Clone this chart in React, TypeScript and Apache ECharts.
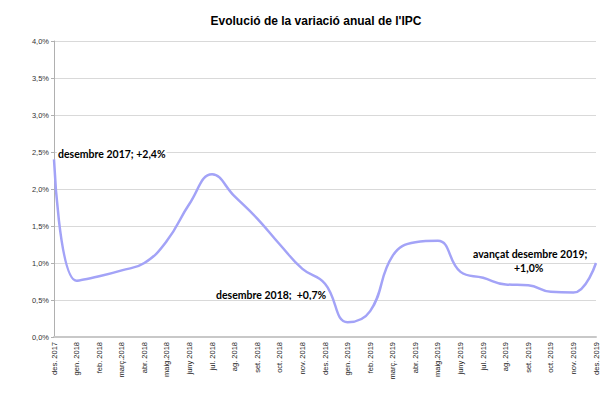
import React, { useEffect, useRef } from "react";
import * as echarts from "echarts";

const categories = [
  "des. 2017", "gen. 2018", "feb. 2018", "març.2018", "abr. 2018", "maig.2018",
  "juny 2018", "jul. 2018", "ag. 2018", "set. 2018", "oct. 2018", "nov. 2018",
  "des. 2018", "gen. 2019", "feb. 2019", "març. 2019", "abr. 2019", "maig.2019",
  "juny 2019", "jul. 2019", "ag. 2019", "set. 2019", "oct. 2019", "nov. 2019", "des. 2019",
];

const ipc = [
  2.4, 0.76, 0.82, 0.9, 1.0, 1.3,
  1.8, 2.2, 1.9, 1.6, 1.25, 0.92,
  0.72, 0.2, 0.35, 1.1, 1.28, 1.3,
  0.88, 0.8, 0.71, 0.7, 0.61, 0.6, 1.0,
];

const titleText = "Evolució de la variació anual de l'IPC";
const note2017 = "desembre 2017; +2,4%";
const note2018 = "desembre 2018;  +0,7%";
const note2019a = "avançat desembre 2019;";
const note2019b = "+1,0%";

export default function App() {
  const ref = useRef<HTMLDivElement>(null);
  useEffect(() => {
    if (!ref.current) return;
    const chart = echarts.init(ref.current, null, { renderer: "svg" });
    const noteStyle = {
      fontFamily: "Lato, 'Open Sans', sans-serif",
      fontWeight: "bold" as const,
      fontSize: 10.5,
      fill: "#000",
    };
    chart.setOption({
      animation: false,
      backgroundColor: "#fff",
      title: {
        text: titleText,
        left: 311,
        textAlign: "center",
        top: 10,
        textStyle: {
          fontFamily: "'Liberation Sans', Arial, sans-serif",
          fontWeight: "bold",
          fontSize: 12,
          color: "#000",
        },
      },
      grid: { left: 54, right: 4, top: 41, bottom: 63, containLabel: false },
      xAxis: {
        type: "category",
        data: categories,
        boundaryGap: false,
        axisLine: { lineStyle: { color: "#c8c8c8", width: 2 } },
        axisTick: { show: false },
        axisLabel: {
          rotate: 90,
          interval: 0,
          fontSize: 7.5,
          color: "#222",
          fontFamily: "'Liberation Sans', Arial, sans-serif",
          margin: 5,
        },
      },
      yAxis: {
        type: "value",
        min: 0,
        max: 4,
        interval: 0.5,
        axisLine: { show: true, lineStyle: { color: "#b0b0b0", width: 1 } },
        axisTick: { show: true, length: 3, lineStyle: { color: "#b0b0b0" } },
        splitLine: { lineStyle: { color: "#d9d9d9", width: 1 } },
        axisLabel: {
          fontSize: 7.5,
          color: "#333",
          margin: 5,
          fontFamily: "'Liberation Sans', Arial, sans-serif",
          formatter: (v: number) => v.toFixed(1).replace(".", ",") + "%",
        },
      },
      series: [
        {
          type: "line",
          data: ipc,
          smooth: 0.45,
          symbol: "none",
          lineStyle: { color: "#a3a3f7", width: 2.5 },
        },
      ],
      graphic: [
        {
          type: "text",
          left: 57,
          top: 147,
          z: 100,
          style: { ...noteStyle, text: note2017, backgroundColor: "#fff", padding: [1, 1, 1, 1] },
        },
        { type: "text", left: 216, top: 289, style: { ...noteStyle, text: note2018 } },
        { type: "text", left: 473, top: 248, style: { ...noteStyle, text: note2019a } },
        { type: "text", left: 514, top: 262, style: { ...noteStyle, text: note2019b } },
      ],
    });
    return () => chart.dispose();
  }, []);
  return (
    <div
      ref={ref}
      style={{ position: "fixed", left: 0, top: 0, width: 600, height: 400 }}
    />
  );
}
